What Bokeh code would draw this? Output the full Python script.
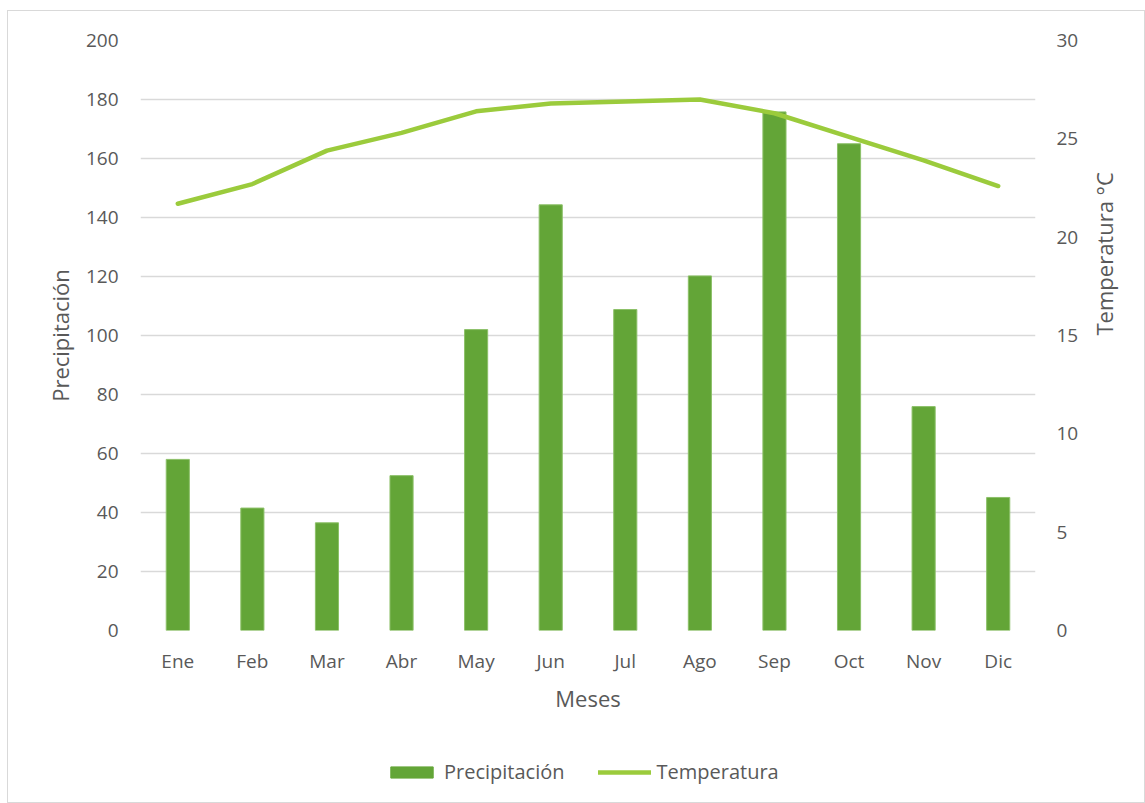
import math
from bokeh.plotting import figure
from bokeh.layouts import column
from bokeh.models import Range1d, LinearAxis, Legend, LegendItem, FactorRange, FixedTicker
from bokeh.embed import file_html
from bokeh.resources import INLINE

months = ["Ene", "Feb", "Mar", "Abr", "May", "Jun", "Jul", "Ago", "Sep", "Oct", "Nov", "Dic"]
precipitacion = [58.0, 41.5, 36.5, 52.5, 102.0, 144.3, 108.8, 120.2, 175.8, 165.0, 75.9, 45.1]
temperatura = [21.7, 22.7, 24.4, 25.3, 26.4, 26.8, 26.9, 27.0, 26.3, 25.1, 23.9, 22.6]

FONT = "Open Sans"
TXT = "#595959"
BAR_COLOR = "#63A537"
BAR_EDGE = "#8CC068"
LINE_COLOR = "#9BCB3C"

p = figure(x_range=FactorRange(*months, range_padding=0), y_range=Range1d(0, 200),
           frame_width=895, frame_height=590, output_backend="svg", toolbar_location=None,
           min_border_left=132, min_border_right=109, min_border_top=29, min_border_bottom=100)
p.outline_line_color = None
p.background_fill_color = "white"
p.border_fill_color = "white"

p.extra_y_ranges = {"temp": Range1d(0, 30)}

bars = p.vbar(x=months, top=precipitacion, width=0.31, fill_color=BAR_COLOR,
              line_color=BAR_EDGE, line_width=1)
line = p.line(x=months, y=temperatura, y_range_name="temp", line_color=LINE_COLOR,
              line_width=4.5, line_join="round", line_cap="round")

p.yaxis.ticker = FixedTicker(ticks=list(range(0, 201, 20)))
p.ygrid.ticker = FixedTicker(ticks=list(range(0, 201, 20)))
p.ygrid.grid_line_color = "#d9d9d9"
p.ygrid.grid_line_width = 1.5
p.xgrid.grid_line_color = None

right = LinearAxis(y_range_name="temp", ticker=FixedTicker(ticks=list(range(0, 31, 5))),
                   axis_label="Temperatura °C")
p.add_layout(right, "right")

p.xaxis.axis_label = "Meses"
p.yaxis[0].axis_label = "Precipitación"

for ax in p.axis:
    ax.axis_line_color = None
    ax.major_tick_line_color = None
    ax.minor_tick_line_color = None
    ax.major_label_text_font = FONT
    ax.major_label_text_font_size = "19px"
    ax.major_label_text_color = TXT
    ax.axis_label_text_font = FONT
    ax.axis_label_text_font_size = "22px"
    ax.axis_label_text_color = TXT
    ax.axis_label_text_font_style = "normal"

right.axis_label_orientation = math.pi / 2
p.yaxis[0].major_label_standoff = 16
p.yaxis[0].axis_label_standoff = 8
right.major_label_standoff = 15
right.axis_label_standoff = 23
p.xaxis.major_label_standoff = 11
p.xaxis.axis_label_standoff = 6

# legend strip below the chart; its keys use hidden renderers styled like the series
p2 = figure(width=1136, height=72, x_range=Range1d(0, 1), y_range=Range1d(0, 1),
            output_backend="svg", toolbar_location=None,
            min_border_left=0, min_border_right=0, min_border_top=0, min_border_bottom=0)
p2.axis.visible = False
p2.grid.visible = False
p2.outline_line_color = None
p2.background_fill_color = "white"
p2.border_fill_color = "white"
kb = p2.vbar(x=list(range(len(months))), top=precipitacion, width=0.1,
             fill_color=BAR_COLOR, line_color=BAR_COLOR, visible=False)
kl = p2.line(x=list(range(len(months))), y=temperatura, line_color=LINE_COLOR,
             line_width=4.5, line_cap="round", visible=False)

legend = Legend(items=[LegendItem(label="Precipitación", renderers=[kb]),
                       LegendItem(label="Temperatura", renderers=[kl])],
                orientation="horizontal", location=(245, 17),
                label_text_font=FONT, label_text_font_size="20px", label_text_color=TXT,
                glyph_width=53, glyph_height=14, spacing=33, label_standoff=6,
                inactive_fill_alpha=0, click_policy="none",
                border_line_color=None, background_fill_alpha=0, margin=0, padding=0)
p2.add_layout(legend, "center")

layout = column(p, p2, spacing=0, margin=(10, 0, 0, 7),
                styles={"border": "1px solid #d9d9d9", "background-color": "white"})

open("out.html", "w").write(file_html(layout, INLINE))
